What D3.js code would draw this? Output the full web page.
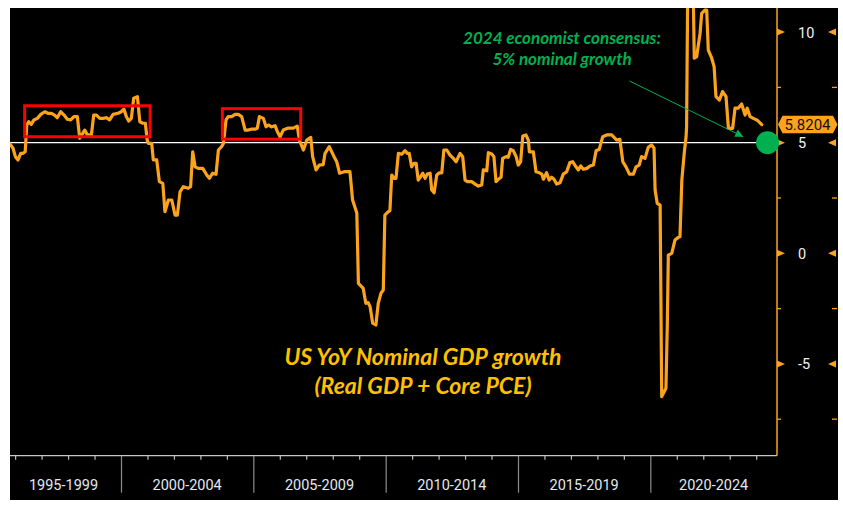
<!DOCTYPE html>
<html><head><meta charset="utf-8">
<script src="https://cdn.jsdelivr.net/npm/d3@7"></script>
<style>body{margin:0;background:#fff}svg{display:block}</style>
</head><body><script>
const dates = [1995.81,1995.92,1996.01,1996.11,1996.21,1996.30,1996.38,1996.44,1996.51,1996.61,1996.71,1996.84,1996.97,1997.12,1997.24,1997.37,1997.49,1997.59,1997.72,1997.85,1997.97,1998.10,1998.22,1998.35,1998.44,1998.53,1998.63,1998.73,1998.88,1998.97,1999.07,1999.20,1999.32,1999.44,1999.57,1999.70,1999.89,2000.01,2000.11,2000.20,2000.29,2000.39,2000.48,2000.62,2000.71,2000.83,2000.92,2000.99,
2001.03,2001.16,2001.22,2001.35,2001.45,2001.58,2001.66,2001.79,2001.92,2002.04,2002.13,2002.23,2002.35,2002.54,2002.63,2002.71,2002.80,2002.92,2003.09,2003.24,2003.34,2003.46,2003.59,2003.68,2003.80,2003.87,2003.97,2004.05,2004.18,2004.31,2004.43,2004.56,2004.69,2004.81,2004.94,2005.06,2005.15,2005.23,2005.38,2005.48,2005.57,2005.69,2005.82,2005.91,
2006.01,2006.13,2006.32,2006.51,2006.66,2006.74,2006.89,2007.02,2007.17,2007.24,2007.37,2007.49,2007.64,2007.71,2007.87,2008.05,2008.15,2008.26,2008.43,2008.65,2008.75,2008.91,2008.97,2009.09,2009.15,2009.25,2009.34,2009.41,2009.51,2009.63,2009.72,2009.82,2009.91,2009.97,
2010.10,2010.16,2010.23,2010.32,2010.39,2010.48,2010.61,2010.73,2010.82,2010.89,2010.98,2011.07,2011.15,2011.23,2011.32,2011.40,2011.49,2011.57,2011.68,2011.74,2011.83,2011.93,2012.03,2012.12,2012.20,2012.31,2012.43,2012.56,2012.66,2012.81,2012.91,2013.00,2013.09,2013.25,2013.38,2013.50,2013.63,2013.69,2013.82,2013.88,2014.01,2014.09,2014.17,2014.26,2014.36,2014.42,2014.55,2014.63,2014.72,2014.82,2014.93,
2015.01,2015.10,2015.18,2015.30,2015.39,2015.43,2015.58,2015.68,2015.81,2015.90,2015.96,2016.08,2016.18,2016.27,2016.36,2016.46,2016.59,2016.71,2016.84,2016.96,2017.07,2017.19,2017.28,2017.37,2017.47,2017.60,2017.72,2017.85,2017.95,2018.07,2018.20,2018.35,2018.54,2018.73,2018.85,2018.96,2019.08,2019.21,2019.36,2019.46,2019.58,2019.67,2019.80,2019.92,
2020.05,2020.14,2020.18,2020.26,2020.37,2020.43,2020.59,2020.64,2020.68,2020.81,2020.93,2021.06,2021.12,2021.19,2021.28,2021.35,2021.37,2021.44,2021.57,2021.66,2021.75,2021.88,2021.94,2022.07,2022.13,2022.19,2022.32,2022.41,2022.48,2022.61,2022.73,2022.86,2022.95,2023.11,2023.20,2023.32,2023.45,2023.58,2023.66,2023.77,2023.89,2024.03,2024.21];
const values = [4.93,4.75,4.37,4.22,4.52,4.52,4.59,5.80,5.95,5.83,6.03,6.10,6.28,6.40,6.33,6.33,6.25,6.13,6.40,6.25,6.06,6.03,6.18,6.18,5.20,5.38,5.57,5.35,5.35,6.25,6.25,6.10,6.10,6.13,6.03,6.28,6.33,6.40,6.52,6.18,5.98,6.10,7.01,7.08,5.95,5.88,5.88,5.12,
4.97,4.97,4.22,4.22,3.24,3.16,1.88,2.41,2.41,1.73,1.73,2.78,3.01,2.94,3.01,4.59,3.91,3.84,3.84,3.54,3.39,3.62,3.57,4.67,4.82,4.97,6.03,6.18,6.18,6.28,6.28,6.18,5.57,5.57,5.62,5.61,5.65,6.18,6.10,5.72,5.80,5.72,5.77,5.50,
5.27,5.57,5.66,5.66,5.75,5.12,4.67,5.12,5.24,4.37,3.77,3.99,4.01,4.52,4.82,4.37,4.14,3.62,3.69,3.69,2.41,1.82,-1.36,-1.51,-1.58,-2.26,-2.23,-2.41,-3.16,-3.24,-2.26,-1.81,-1.66,1.73,
1.88,1.93,3.54,3.39,3.39,4.52,4.48,4.64,4.52,4.52,3.91,4.07,4.07,3.31,3.46,3.62,3.39,3.58,3.62,2.86,2.74,3.54,3.64,3.64,4.67,4.67,4.44,4.29,4.14,4.52,4.37,3.31,3.24,3.24,3.13,3.04,3.09,3.77,3.73,4.55,4.49,4.37,3.24,3.35,3.44,4.29,4.37,4.34,4.70,4.64,4.37,
3.99,4.14,5.30,5.35,5.12,4.59,4.59,3.69,3.64,3.58,3.35,3.64,3.31,3.44,3.35,3.13,3.19,3.58,3.69,4.10,4.14,3.91,3.77,3.95,3.80,3.84,3.95,3.99,4.64,4.70,5.27,5.35,5.35,5.12,5.15,4.14,3.91,3.58,3.58,3.91,3.99,4.37,4.29,4.79,
4.90,4.75,2.86,2.26,2.18,-6.48,-6.10,-3.32,-0.08,0.00,0.60,0.72,0.75,3.31,4.52,5.27,5.72,15.9,15.6,8.82,8.89,9.95,10.85,11.00,11.00,9.19,8.82,8.44,7.08,6.93,7.31,7.08,5.65,5.65,6.56,6.56,6.75,6.25,6.56,6.18,6.10,6.03,5.82];

const yMajorTicks = [10, 5, 0, -5];
const yMinorTicks = [7.5, 2.5, -2.5, -7.5];
const yearTicks = d3.range(1996, 2025);
const periodBreaks = [2000, 2005, 2010, 2015, 2020];
const periodLabels = ["1995-1999","2000-2004","2005-2009","2010-2014","2015-2019","2020-2024"];
const lastValueLabel = "5.8204";
const consensusValue = 5;
const consensusDate = 2024.43;
const arrowFrom = [2019.21, 7.79];
const arrowTo = [2023.51, 5.27];
const highlightBoxes = [
  {d0: 1996.36, d1: 2001.10, v0: 5.27, v1: 6.67},
  {d0: 2003.83, d1: 2006.79, v0: 5.16, v1: 6.54}
];
const titleLines = ["US YoY Nominal GDP growth", "(Real GDP + Core PCE)"];
const noteLines = ["2024 economist consensus:", "5% nominal growth"];

const W = 843, H = 505;
const L = 10, R = 777, T = 8, B = 455.7;
const ORANGE = "#fba31c", GREEN = "#00b050", GOLD = "#ffc000";

const svg = d3.select("body").append("svg").attr("width", W).attr("height", H);
svg.append("rect").attr("width", W).attr("height", H).attr("fill", "#fff");
svg.append("rect").attr("x", 10).attr("y", 8).attr("width", 828).attr("height", 492).attr("fill", "#000");

const x = d3.scaleLinear().domain([1995.806, 2024.786]).range([L, R]);
const y = d3.scaleLinear().domain([-9.15, 11.09]).range([B, T]);

svg.append("defs").append("clipPath").attr("id", "clip")
  .append("rect").attr("x", L).attr("y", T).attr("width", R - L).attr("height", B - T);
const defs = svg.select("defs");
defs.append("marker").attr("id", "arr").attr("viewBox", "0 0 10 10")
  .attr("refX", 10).attr("refY", 5).attr("markerWidth", 10).attr("markerHeight", 8)
  .attr("markerUnits", "userSpaceOnUse").attr("orient", "auto")
  .append("path").attr("d", "M0,0L10,5L0,10Z").attr("fill", GREEN);

// x axis: baseline, minor year ticks, period separators
svg.append("line").attr("x1", L).attr("x2", R).attr("y1", B).attr("y2", B)
  .attr("stroke", "#c8c8c8").attr("stroke-width", 1.2);
const xMinor = svg.append("g").attr("transform", `translate(0,${B})`)
  .call(d3.axisBottom(x).tickValues(yearTicks.filter(t => t % 5 !== 0)).tickSize(4).tickFormat(""));
xMinor.select(".domain").remove();
xMinor.selectAll("line").attr("stroke", "#bfbfbf").attr("stroke-width", 1.2);
const xMajor = svg.append("g").attr("transform", `translate(0,${B})`)
  .call(d3.axisBottom(x).tickValues(periodBreaks).tickSize(37).tickFormat(""));
xMajor.select(".domain").remove();
xMajor.selectAll("line").attr("stroke", "#8c8c8c").attr("stroke-width", 1.2);
const bounds = [x.domain()[0], ...periodBreaks, x.domain()[1]];
svg.append("g").selectAll("text").data(periodLabels).join("text")
  .attr("x", (d, i) => (x(bounds[i]) + x(bounds[i + 1])) / 2 - (i === 0 ? 2 : 0))
  .attr("y", 490)
  .attr("text-anchor", "middle")
  .attr("fill", "#e2e8f0")
  .attr("font-family", "Roboto, 'Open Sans', sans-serif")
  .attr("font-size", 14.5)
  .text(d => d);

// right y axis
svg.append("line").attr("x1", R).attr("x2", R).attr("y1", T).attr("y2", B)
  .attr("stroke", ORANGE).attr("stroke-width", 1.5);
const yAx = svg.append("g").attr("transform", `translate(${R},0)`)
  .call(d3.axisRight(y).tickValues(yMajorTicks).tickSize(0).tickPadding(21).tickFormat(d => String(d)));
yAx.select(".domain").remove();
yAx.selectAll("text").attr("fill", "#eef2f7").attr("font-size", 14.5)
  .attr("font-family", "Roboto, 'Open Sans', sans-serif").attr("dy", "0.35em");
svg.append("g").selectAll("path").data(yMajorTicks).join("path")
  .attr("d", d => `M${R},${y(d) - 3.5}L${R + 8},${y(d)}L${R},${y(d) + 3.5}Z`).attr("fill", ORANGE);
svg.append("g").selectAll("path").data(yMajorTicks).join("path")
  .attr("d", d => `M836,${y(d) - 3.5}L828,${y(d)}L836,${y(d) + 3.5}Z`).attr("fill", ORANGE);
svg.append("g").selectAll("line").data(yMinorTicks).join("line")
  .attr("x1", R).attr("x2", R + 4).attr("y1", d => y(d)).attr("y2", d => y(d))
  .attr("stroke", ORANGE).attr("stroke-width", 1.3);
svg.append("g").selectAll("line").data(yMinorTicks).join("line")
  .attr("x1", 832).attr("x2", 837).attr("y1", d => y(d)).attr("y2", d => y(d))
  .attr("stroke", ORANGE).attr("stroke-width", 1.3);

// consensus reference line
svg.append("line").attr("x1", L).attr("x2", x(consensusDate)).attr("y1", y(consensusValue)).attr("y2", y(consensusValue))
  .attr("stroke", "#fff").attr("stroke-width", 1.3);

// series line
const series = dates.map((d, i) => ({date: d, value: values[i]}));
svg.append("path").datum(series)
  .attr("clip-path", "url(#clip)")
  .attr("fill", "none").attr("stroke", ORANGE).attr("stroke-width", 3.2)
  .attr("stroke-linejoin", "round").attr("stroke-linecap", "round")
  .attr("d", d3.line().x(d => x(d.date)).y(d => y(d.value)));

// red highlight boxes
svg.append("g").selectAll("rect").data(highlightBoxes).join("rect")
  .attr("x", d => x(d.d0)).attr("y", d => y(d.v1))
  .attr("width", d => x(d.d1) - x(d.d0)).attr("height", d => y(d.v0) - y(d.v1))
  .attr("fill", "none").attr("stroke", "#ff0000").attr("stroke-width", 3);

// last value tag
const ly = y(values[values.length - 1]);
svg.append("path").attr("d", `M778,${ly}L782.5,${ly - 8.8}L833,${ly - 8.8}L837.5,${ly}L833,${ly + 8.8}L782.5,${ly + 8.8}Z`)
  .attr("fill", ORANGE);
svg.append("text").attr("x", 807.5).attr("y", ly).attr("dy", "0.36em").attr("text-anchor", "middle")
  .attr("fill", "#111").attr("font-size", 15).attr("font-family", "Roboto, 'Open Sans', sans-serif")
  .text(lastValueLabel);

// green consensus dot
svg.append("circle").attr("cx", x(consensusDate)).attr("cy", y(consensusValue)).attr("r", 11.5).attr("fill", GREEN);

// annotation arrow + text
svg.append("line").attr("x1", x(arrowFrom[0])).attr("y1", y(arrowFrom[1]))
  .attr("x2", x(arrowTo[0])).attr("y2", y(arrowTo[1]))
  .attr("stroke", GREEN).attr("stroke-width", 1).attr("marker-end", "url(#arr)");
svg.append("g").selectAll("text").data(noteLines).join("text")
  .attr("x", 562).attr("y", (d, i) => 44 + i * 21)
  .attr("text-anchor", "middle").attr("fill", GREEN)
  .attr("font-family", "Lato, 'Open Sans', sans-serif").attr("font-weight", "bold").attr("font-style", "italic")
  .attr("font-size", 17)
  .text(d => d);

// title
svg.append("g").selectAll("text").data(titleLines).join("text")
  .attr("x", 423).attr("y", (d, i) => 365 + i * 28.5)
  .attr("text-anchor", "middle").attr("fill", GOLD)
  .attr("font-family", "Lato, 'Open Sans', sans-serif").attr("font-weight", "bold").attr("font-style", "italic")
  .attr("font-size", 23)
  .text(d => d);
</script></body></html>
